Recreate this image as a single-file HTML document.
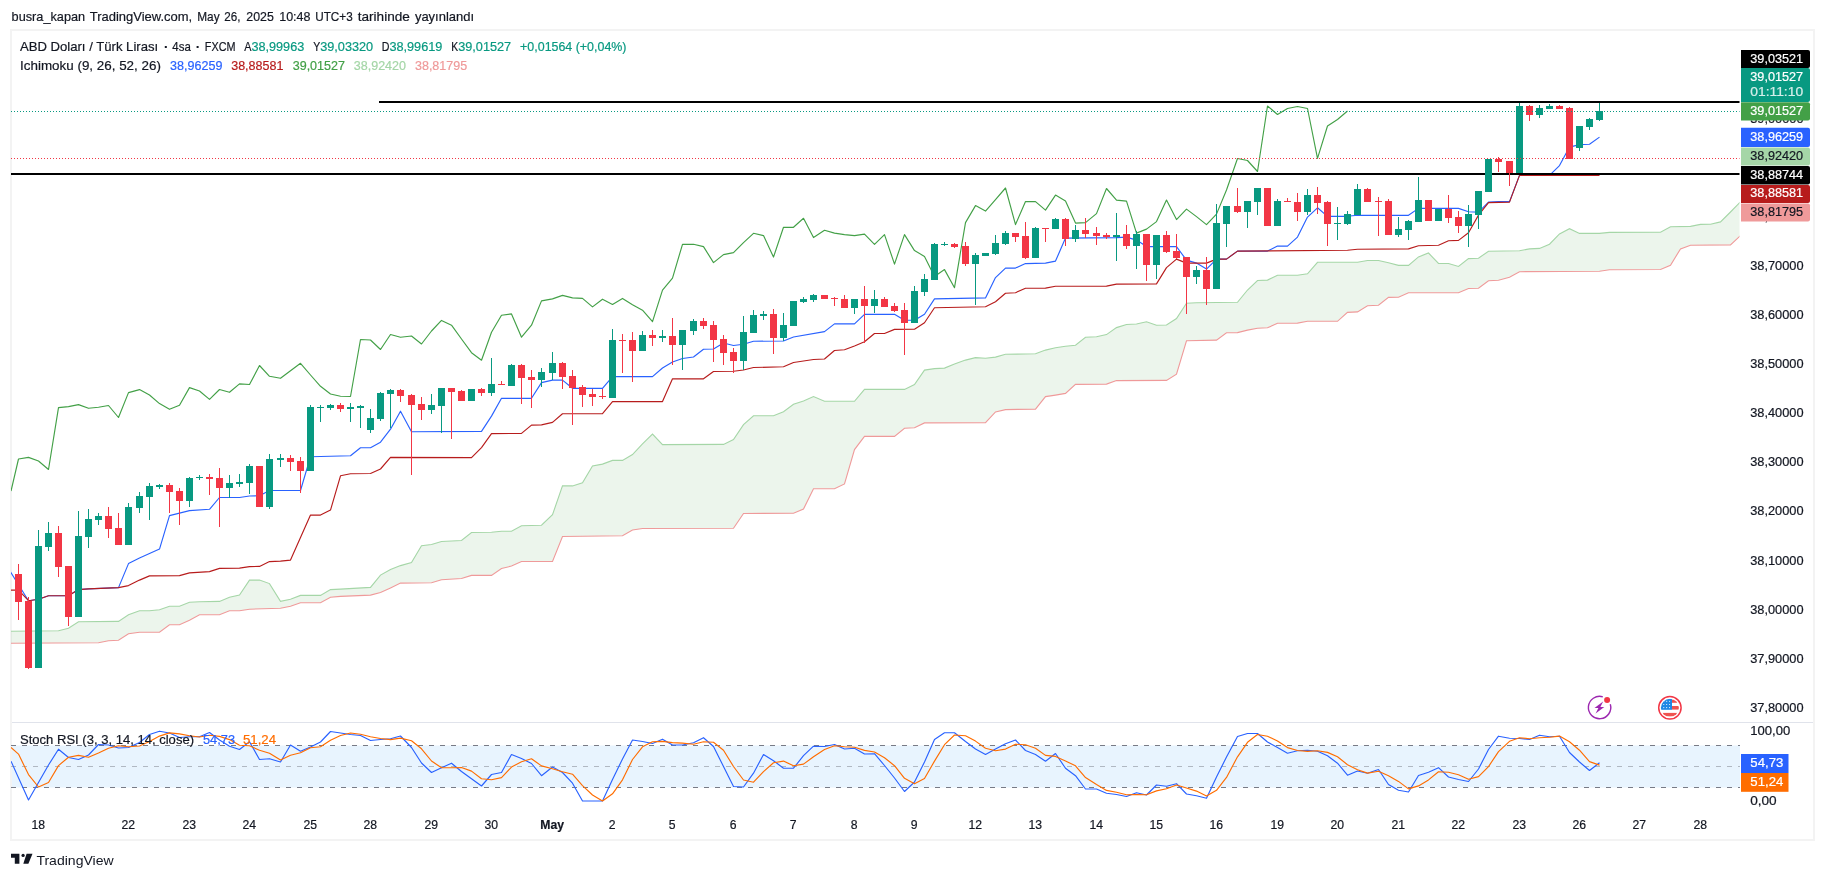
<!DOCTYPE html><html><head><meta charset="utf-8"><title>chart</title><style>html,body{margin:0;padding:0;background:#fff}body{width:1825px;height:879px;overflow:hidden;font-family:"Liberation Sans",sans-serif}svg{display:block}</style></head><body><svg width="1825" height="879" viewBox="0 0 1825 879" font-family="Liberation Sans, sans-serif" style="will-change:transform">
<rect width="1825" height="879" fill="#fff"/>
<defs><clipPath id="cp"><rect x="11" y="31" width="1728.5" height="691.5"/></clipPath><clipPath id="cs"><rect x="11" y="723" width="1728.5" height="95"/></clipPath></defs>
<text x="11.6" y="20.8" font-size="13.4" fill="#131722" stroke="#131722" stroke-width="0.2" textLength="73.5" lengthAdjust="spacingAndGlyphs">busra_kapan</text>
<text x="89.7" y="20.8" font-size="13.4" fill="#131722" stroke="#131722" stroke-width="0.2" textLength="102.5" lengthAdjust="spacingAndGlyphs">TradingView.com,</text>
<text x="197.2" y="20.8" font-size="13.4" fill="#131722" stroke="#131722" stroke-width="0.2" textLength="22.4" lengthAdjust="spacingAndGlyphs">May</text>
<text x="224.3" y="20.8" font-size="13.4" fill="#131722" stroke="#131722" stroke-width="0.2" textLength="16.2" lengthAdjust="spacingAndGlyphs">26,</text>
<text x="246.3" y="20.8" font-size="13.4" fill="#131722" stroke="#131722" stroke-width="0.2" textLength="27.5" lengthAdjust="spacingAndGlyphs">2025</text>
<text x="279.2" y="20.8" font-size="13.4" fill="#131722" stroke="#131722" stroke-width="0.2" textLength="31.3" lengthAdjust="spacingAndGlyphs">10:48</text>
<text x="315.2" y="20.8" font-size="13.4" fill="#131722" stroke="#131722" stroke-width="0.2" textLength="37.5" lengthAdjust="spacingAndGlyphs">UTC+3</text>
<text x="357.7" y="20.8" font-size="13.4" fill="#131722" stroke="#131722" stroke-width="0.2" textLength="52.2" lengthAdjust="spacingAndGlyphs">tarihinde</text>
<text x="414.9" y="20.8" font-size="13.4" fill="#131722" stroke="#131722" stroke-width="0.2" textLength="59.2" lengthAdjust="spacingAndGlyphs">yayınlandı</text>
<rect x="11" y="30" width="1803" height="810" fill="none" stroke="#F3F3F3" stroke-width="2"/>
<rect x="12" y="722" width="1801" height="1" fill="#E0E3EB"/>
<g clip-path="url(#cp)">
<polygon points="10.6,631.2 58.5,630.7 68.5,628.2 78.5,621.7 118.5,621.4 128.5,614.7 139.5,610.7 149.5,610.7 159.5,609.7 169.5,606.2 179.5,606.2 189.5,602.2 199.5,601.7 219.5,601.4 229.5,597.2 239.5,595.1 249.5,580.1 259.5,580.1 269.5,583.6 280.5,601.4 290.5,599.2 300.5,595.4 320.5,595.4 330.5,589.6 340.5,589.1 370.5,587.4 380.5,575.1 390.5,569.6 400.5,565.6 411.5,562.6 421.5,545.8 431.5,544.5 441.5,541.5 461.5,540.5 471.5,532.5 491.5,532.2 501.5,531.2 511.5,531.2 521.5,525.8 541.5,525.2 552.5,514.7 562.5,485.9 572.5,485.9 582.5,482.7 592.5,465.9 602.5,464.1 612.5,460.4 622.5,460.4 632.5,454.6 642.5,443.9 652.5,434.1 662.5,444.6 723.5,444.4 733.5,439.6 743.5,424.6 753.5,415.8 773.5,415.8 783.5,411.8 793.5,404.3 803.5,401.1 813.5,396.6 824.5,401.3 854.5,401.3 864.5,389.3 904.5,389.4 914.5,384.6 924.5,370.1 934.5,368.6 944.5,368.1 954.5,364.1 965.5,360.1 975.5,357.6 985.5,358.3 995.5,357.1 1005.5,354.3 1035.5,353.8 1045.5,350.1 1055.5,347.8 1065.5,346.3 1075.5,345.3 1085.5,337.3 1096.5,336.8 1106.5,334.6 1116.5,327.6 1126.5,324.5 1136.5,324 1146.5,321.8 1156.5,325.3 1166.5,325 1176.5,318.5 1186.5,303.3 1196.5,302.8 1237.5,302.3 1247.5,290 1257.5,280.5 1267.5,280.1 1277.5,275.3 1297.5,275.3 1307.5,273.8 1317.5,262.3 1357.5,262.2 1367.5,260.5 1378.5,260.5 1388.5,262.7 1398.5,265.4 1408.5,265.4 1418.5,256.9 1428.5,253 1438.5,263.4 1448.5,263.5 1458.5,266.5 1468.5,258.6 1478.5,258.2 1488.5,251.2 1519.5,250.7 1529.5,248.9 1539.5,248.4 1549.5,244.2 1559.5,233.9 1569.5,228.7 1579.5,233.4 1599.5,233.4 1609.5,232.4 1660.5,232.2 1670.5,226.7 1690.5,226.4 1700.5,224.4 1710.5,224.2 1720.5,221.9 1730.5,212 1740.2,202.1 1740.2,235.9 1730.5,244.9 1690.5,245.2 1680.5,248.9 1670.5,265.2 1660.5,269.5 1609.5,269.7 1599.5,271.2 1519.5,271.7 1509.5,277.2 1498.5,280.2 1488.5,280.7 1478.5,288.2 1468.5,288.5 1458.5,292.8 1408.5,292.8 1398.5,297.2 1388.5,297.4 1378.5,305.3 1367.5,305.7 1357.5,311.9 1347.5,312.4 1337.5,321.3 1307.5,321.3 1297.5,323.1 1277.5,323.3 1267.5,327.8 1257.5,328.3 1247.5,330.1 1237.5,332.6 1226.5,332.8 1216.5,340.1 1186.5,340.8 1176.5,374.1 1166.5,380.4 1116.5,380.6 1106.5,384.1 1075.5,384.4 1065.5,393.4 1055.5,395.1 1045.5,396.6 1035.5,409.1 1005.5,409.6 995.5,411.9 985.5,422.7 924.5,422.9 914.5,427.7 904.5,428.2 894.5,436.4 864.5,436.4 854.5,449.6 844.5,483.9 834.5,488.7 813.5,488.7 803.5,509 793.5,513.2 743.5,513.5 733.5,528.2 642.5,528.5 632.5,530 622.5,535.7 562.5,536.5 552.5,561.5 521.5,561.5 511.5,566.1 501.5,568.5 491.5,575.4 471.5,575.4 461.5,578.5 441.5,579.8 431.5,582.8 400.5,583.1 390.5,587.9 380.5,592.6 370.5,595.1 340.5,596.4 330.5,597.2 320.5,602.7 300.5,602.7 290.5,606.2 280.5,608.2 249.5,609.2 239.5,610.7 229.5,610.7 219.5,614.7 199.5,614.7 189.5,620.2 179.5,624.7 169.5,624.7 159.5,632.2 139.5,632.2 128.5,633.7 118.5,640.2 108.5,640.7 98.5,642.7 10.6,643.2" fill="#43A047" fill-opacity="0.1"/>
<polyline points="10.6,631.2 58.5,630.7 68.5,628.2 78.5,621.7 118.5,621.4 128.5,614.7 139.5,610.7 149.5,610.7 159.5,609.7 169.5,606.2 179.5,606.2 189.5,602.2 199.5,601.7 219.5,601.4 229.5,597.2 239.5,595.1 249.5,580.1 259.5,580.1 269.5,583.6 280.5,601.4 290.5,599.2 300.5,595.4 320.5,595.4 330.5,589.6 340.5,589.1 370.5,587.4 380.5,575.1 390.5,569.6 400.5,565.6 411.5,562.6 421.5,545.8 431.5,544.5 441.5,541.5 461.5,540.5 471.5,532.5 491.5,532.2 501.5,531.2 511.5,531.2 521.5,525.8 541.5,525.2 552.5,514.7 562.5,485.9 572.5,485.9 582.5,482.7 592.5,465.9 602.5,464.1 612.5,460.4 622.5,460.4 632.5,454.6 642.5,443.9 652.5,434.1 662.5,444.6 723.5,444.4 733.5,439.6 743.5,424.6 753.5,415.8 773.5,415.8 783.5,411.8 793.5,404.3 803.5,401.1 813.5,396.6 824.5,401.3 854.5,401.3 864.5,389.3 904.5,389.4 914.5,384.6 924.5,370.1 934.5,368.6 944.5,368.1 954.5,364.1 965.5,360.1 975.5,357.6 985.5,358.3 995.5,357.1 1005.5,354.3 1035.5,353.8 1045.5,350.1 1055.5,347.8 1065.5,346.3 1075.5,345.3 1085.5,337.3 1096.5,336.8 1106.5,334.6 1116.5,327.6 1126.5,324.5 1136.5,324 1146.5,321.8 1156.5,325.3 1166.5,325 1176.5,318.5 1186.5,303.3 1196.5,302.8 1237.5,302.3 1247.5,290 1257.5,280.5 1267.5,280.1 1277.5,275.3 1297.5,275.3 1307.5,273.8 1317.5,262.3 1357.5,262.2 1367.5,260.5 1378.5,260.5 1388.5,262.7 1398.5,265.4 1408.5,265.4 1418.5,256.9 1428.5,253 1438.5,263.4 1448.5,263.5 1458.5,266.5 1468.5,258.6 1478.5,258.2 1488.5,251.2 1519.5,250.7 1529.5,248.9 1539.5,248.4 1549.5,244.2 1559.5,233.9 1569.5,228.7 1579.5,233.4 1599.5,233.4 1609.5,232.4 1660.5,232.2 1670.5,226.7 1690.5,226.4 1700.5,224.4 1710.5,224.2 1720.5,221.9 1730.5,212 1740.2,202.1" fill="none" stroke="#A5D6A7" stroke-width="1.1"/>
<polyline points="10.6,643.2 98.5,642.7 108.5,640.7 118.5,640.2 128.5,633.7 139.5,632.2 159.5,632.2 169.5,624.7 179.5,624.7 189.5,620.2 199.5,614.7 219.5,614.7 229.5,610.7 239.5,610.7 249.5,609.2 280.5,608.2 290.5,606.2 300.5,602.7 320.5,602.7 330.5,597.2 340.5,596.4 370.5,595.1 380.5,592.6 390.5,587.9 400.5,583.1 431.5,582.8 441.5,579.8 461.5,578.5 471.5,575.4 491.5,575.4 501.5,568.5 511.5,566.1 521.5,561.5 552.5,561.5 562.5,536.5 622.5,535.7 632.5,530 642.5,528.5 733.5,528.2 743.5,513.5 793.5,513.2 803.5,509 813.5,488.7 834.5,488.7 844.5,483.9 854.5,449.6 864.5,436.4 894.5,436.4 904.5,428.2 914.5,427.7 924.5,422.9 985.5,422.7 995.5,411.9 1005.5,409.6 1035.5,409.1 1045.5,396.6 1055.5,395.1 1065.5,393.4 1075.5,384.4 1106.5,384.1 1116.5,380.6 1166.5,380.4 1176.5,374.1 1186.5,340.8 1216.5,340.1 1226.5,332.8 1237.5,332.6 1247.5,330.1 1257.5,328.3 1267.5,327.8 1277.5,323.3 1297.5,323.1 1307.5,321.3 1337.5,321.3 1347.5,312.4 1357.5,311.9 1367.5,305.7 1378.5,305.3 1388.5,297.4 1398.5,297.2 1408.5,292.8 1458.5,292.8 1468.5,288.5 1478.5,288.2 1488.5,280.7 1498.5,280.2 1509.5,277.2 1519.5,271.7 1599.5,271.2 1609.5,269.7 1660.5,269.5 1670.5,265.2 1680.5,248.9 1690.5,245.2 1730.5,244.9 1740.2,235.9" fill="none" stroke="#EF9A9A" stroke-width="1.1"/>
<polyline points="10.6,572.1 28.5,600.7 38.5,599.2 48.5,595.7 68.5,595.7 78.5,589.6 88.5,588.9 118.5,587.6 128.5,563.6 139.5,558.1 149.5,553.6 159.5,549.1 169.5,515.6 179.5,513.1 189.5,510.6 209.5,509.3 219.5,497.5 239.5,497.5 249.5,496 259.5,495.8 269.5,490.5 300.5,490.5 310.5,456.7 350.5,455.7 360.5,447.7 370.5,447.7 380.5,442.2 390.5,429.2 400.5,411.2 411.5,431.7 481.5,431.4 491.5,416.1 501.5,398.3 531.5,398.3 541.5,382.6 552.5,380.1 562.5,380.1 572.5,388.3 602.5,388.3 612.5,376.6 652.5,376.6 662.5,368 672.5,362 682.5,358.5 693.5,357 703.5,349.3 713.5,349 723.5,343 733.5,345.5 743.5,344.3 753.5,341.3 783.5,341 793.5,337 824.5,331.6 834.5,323.9 854.5,323.9 864.5,314.4 894.5,314.3 904.5,320.2 914.5,320.2 924.5,314.2 934.5,298.9 985.5,297.9 995.5,277.6 1005.5,268.1 1015.5,268.1 1025.5,263.6 1045.5,263.1 1055.5,261.1 1065.5,238.1 1116.5,237.6 1126.5,237.1 1136.5,240.1 1146.5,246.6 1176.5,246.6 1186.5,260.1 1196.5,263.1 1206.5,269.1 1216.5,259.1 1226.5,259.1 1237.5,251.1 1267.5,251.1 1277.5,246.1 1287.5,246.1 1297.5,237.1 1307.5,217.1 1317.5,207.8 1327.5,216.4 1347.5,216.3 1357.5,215.3 1408.5,215.3 1418.5,208.4 1458.5,208.4 1468.5,211.8 1478.5,212.1 1488.5,202.1 1498.5,201.6 1509.5,201.6 1519.5,175.4 1549.5,175.4 1559.5,165.6 1569.5,147.1 1579.5,144.6 1589.5,144.3 1599.5,137.1" fill="none" stroke="#2962FF" stroke-width="1.15" stroke-linejoin="round"/>
<polyline points="10.6,590.1 18.5,590.1 28.5,600.7 38.5,599.2 48.5,595.7 68.5,595.7 78.5,589.6 88.5,588.9 118.5,587.6 128.5,585.6 139.5,580.1 149.5,575.9 179.5,575.6 189.5,572.9 209.5,571.6 219.5,568.4 239.5,568.1 249.5,566.6 259.5,566.4 269.5,561.6 280.5,561.1 290.5,560.1 300.5,537.6 310.5,515.1 320.5,515.1 330.5,510.1 340.5,475.8 350.5,473.8 370.5,473.5 380.5,469 390.5,457.4 471.5,457.6 481.5,447.6 491.5,433.6 521.5,433.4 531.5,425.1 541.5,424.9 552.5,422.4 562.5,413.8 602.5,413.6 612.5,401.6 662.5,401.6 672.5,378.8 703.5,378.8 713.5,371.5 733.5,371.3 743.5,370 753.5,367.5 783.5,366.8 793.5,362.5 813.5,359.5 824.5,359 834.5,350.5 844.5,349.8 854.5,346 864.5,341.8 874.5,333.5 884.5,333.5 894.5,329.4 914.5,329.2 924.5,322.7 934.5,307.7 985.5,306.7 995.5,301.7 1005.5,293.2 1015.5,292.7 1025.5,288.2 1045.5,288.1 1055.5,286.2 1106.5,286.1 1116.5,284.1 1156.5,283.9 1166.5,267.6 1176.5,259.1 1186.5,263.1 1206.5,263.1 1216.5,259.1 1226.5,259.1 1237.5,251.1 1347.5,250.3 1357.5,249.2 1408.5,248.9 1418.5,245.7 1438.5,245.2 1448.5,240.7 1458.5,240.4 1468.5,232.7 1478.5,215.1 1488.5,202.6 1509.5,202.1 1519.5,175.4 1599.5,175.4" fill="none" stroke="#B71C1C" stroke-width="1.15" stroke-linejoin="round"/>
<polyline points="11,491 18.5,459 28.5,457.4 38.5,461 48.5,469.5 58.5,407.6 68.5,406.6 78.5,404.6 88.5,408.3 98.5,407.3 108.5,405.5 118.5,417.5 128.5,392.6 139.5,389.6 149.5,395 159.5,403.6 169.5,409.3 179.5,405.3 189.5,387.6 199.5,391 209.5,399.4 219.5,389.5 229.5,392.3 239.5,383.9 249.5,384.5 259.5,365.5 269.5,376.3 280.5,378.3 290.5,370.8 300.5,363.3 310.5,375 320.5,386.3 330.5,394 340.5,396.3 350.5,396.5 360.5,339.5 370.5,340 380.5,349.5 390.5,334.5 400.5,337.3 411.5,336 421.5,344 431.5,331 441.5,320.4 451.5,325.2 461.5,339 471.5,352.7 481.5,360.2 491.5,332.2 501.5,315.2 511.5,313.9 521.5,337.2 531.5,325.2 541.5,300.9 552.5,298.9 562.5,295.4 572.5,297.9 582.5,298.4 592.5,306.9 602.5,299.2 612.5,304.4 622.5,298.4 632.5,304.7 642.5,310.2 652.5,321.7 662.5,290.1 672.5,278.1 682.5,244.3 693.5,244.3 703.5,246.6 713.5,262.6 723.5,254.6 733.5,252.6 743.5,242.6 753.5,233.3 763.5,235.6 773.5,257.1 783.5,227.3 793.5,227.3 803.5,218.3 813.5,237.6 824.5,230.3 834.5,233.1 844.5,234.6 854.5,235.6 864.5,234.1 874.5,244.3 884.5,234.6 894.5,264.1 904.5,234.6 914.5,250.6 924.5,256.4 934.5,276.4 944.5,269.6 954.5,287.7 965.5,222.6 975.5,205.6 985.5,211.1 995.5,199.6 1005.5,188 1015.5,224.6 1025.5,201.6 1035.5,201.6 1045.5,210.1 1055.5,195.1 1065.5,201.1 1075.5,223.1 1085.5,222.6 1096.5,213.6 1106.5,188.5 1116.5,200.1 1126.5,201.1 1136.5,233.1 1146.5,229.1 1156.5,221.6 1166.5,200.1 1176.5,219.6 1186.5,209.1 1196.5,216.6 1206.5,224.6 1216.5,214.1 1226.5,190 1237.5,158.5 1247.5,160.5 1257.5,171.5 1267.5,106 1277.5,114.5 1287.5,108.5 1297.5,106.5 1307.5,108.5 1317.5,158.3 1327.5,126 1337.5,119.5 1347.5,111" fill="none" stroke="#43A047" stroke-width="1.15" stroke-linejoin="round"/>
<rect x="379" y="101" width="1361" height="2" fill="#000"/>
<rect x="11" y="173" width="1729" height="2" fill="#000"/>
<g shape-rendering="crispEdges">
<rect x="18" y="564" width="1" height="56" fill="#F23645"/>
<rect x="15" y="574" width="7" height="28" fill="#F23645"/>
<rect x="28" y="597" width="1" height="72" fill="#F23645"/>
<rect x="25" y="601" width="7" height="67" fill="#F23645"/>
<rect x="38" y="530" width="1" height="138" fill="#089981"/>
<rect x="35" y="546" width="7" height="122" fill="#089981"/>
<rect x="48" y="522" width="1" height="29" fill="#089981"/>
<rect x="45" y="533" width="7" height="14" fill="#089981"/>
<rect x="58" y="526" width="1" height="51" fill="#F23645"/>
<rect x="55" y="533" width="7" height="34" fill="#F23645"/>
<rect x="68" y="566" width="1" height="60" fill="#F23645"/>
<rect x="65" y="566" width="7" height="51" fill="#F23645"/>
<rect x="78" y="511" width="1" height="106" fill="#089981"/>
<rect x="75" y="536" width="7" height="81" fill="#089981"/>
<rect x="88" y="509" width="1" height="39" fill="#089981"/>
<rect x="85" y="519" width="7" height="18" fill="#089981"/>
<rect x="98" y="513" width="1" height="12" fill="#089981"/>
<rect x="95" y="516" width="7" height="4" fill="#089981"/>
<rect x="108" y="507" width="1" height="31" fill="#F23645"/>
<rect x="105" y="516" width="7" height="13" fill="#F23645"/>
<rect x="118" y="513" width="1" height="32" fill="#F23645"/>
<rect x="115" y="528" width="7" height="17" fill="#F23645"/>
<rect x="128" y="503" width="1" height="42" fill="#089981"/>
<rect x="125" y="507" width="7" height="38" fill="#089981"/>
<rect x="139" y="492" width="1" height="21" fill="#089981"/>
<rect x="136" y="496" width="7" height="12" fill="#089981"/>
<rect x="149" y="483" width="1" height="37" fill="#089981"/>
<rect x="146" y="486" width="7" height="11" fill="#089981"/>
<rect x="159" y="484" width="1" height="5" fill="#089981"/>
<rect x="156" y="485" width="7" height="2" fill="#089981"/>
<rect x="169" y="483" width="1" height="30" fill="#F23645"/>
<rect x="166" y="485" width="7" height="7" fill="#F23645"/>
<rect x="179" y="488" width="1" height="37" fill="#F23645"/>
<rect x="176" y="491" width="7" height="10" fill="#F23645"/>
<rect x="189" y="477" width="1" height="30" fill="#089981"/>
<rect x="186" y="478" width="7" height="23" fill="#089981"/>
<rect x="199" y="475" width="1" height="5" fill="#089981"/>
<rect x="196" y="477" width="7" height="1" fill="#089981"/>
<rect x="209" y="474" width="1" height="21" fill="#F23645"/>
<rect x="206" y="477" width="7" height="2" fill="#F23645"/>
<rect x="219" y="468" width="1" height="59" fill="#F23645"/>
<rect x="216" y="478" width="7" height="10" fill="#F23645"/>
<rect x="229" y="475" width="1" height="23" fill="#089981"/>
<rect x="226" y="483" width="7" height="5" fill="#089981"/>
<rect x="239" y="474" width="1" height="13" fill="#089981"/>
<rect x="236" y="482" width="7" height="2" fill="#089981"/>
<rect x="249" y="464" width="1" height="30" fill="#089981"/>
<rect x="246" y="466" width="7" height="17" fill="#089981"/>
<rect x="259" y="466" width="1" height="41" fill="#F23645"/>
<rect x="256" y="466" width="7" height="41" fill="#F23645"/>
<rect x="269" y="454" width="1" height="55" fill="#089981"/>
<rect x="266" y="459" width="7" height="48" fill="#089981"/>
<rect x="280" y="454" width="1" height="13" fill="#089981"/>
<rect x="277" y="458" width="7" height="2" fill="#089981"/>
<rect x="290" y="455" width="1" height="16" fill="#F23645"/>
<rect x="287" y="458" width="7" height="4" fill="#F23645"/>
<rect x="300" y="457" width="1" height="36" fill="#F23645"/>
<rect x="297" y="461" width="7" height="10" fill="#F23645"/>
<rect x="310" y="405" width="1" height="66" fill="#089981"/>
<rect x="307" y="407" width="7" height="64" fill="#089981"/>
<rect x="320" y="405" width="1" height="17" fill="#089981"/>
<rect x="317" y="407" width="7" height="1" fill="#089981"/>
<rect x="330" y="404" width="1" height="6" fill="#089981"/>
<rect x="327" y="405" width="7" height="3" fill="#089981"/>
<rect x="340" y="403" width="1" height="9" fill="#F23645"/>
<rect x="337" y="405" width="7" height="4" fill="#F23645"/>
<rect x="350" y="403" width="1" height="19" fill="#089981"/>
<rect x="347" y="407" width="7" height="2" fill="#089981"/>
<rect x="360" y="405" width="1" height="23" fill="#089981"/>
<rect x="357" y="406" width="7" height="2" fill="#089981"/>
<rect x="370" y="409" width="1" height="24" fill="#089981"/>
<rect x="367" y="418" width="7" height="12" fill="#089981"/>
<rect x="380" y="392" width="1" height="29" fill="#089981"/>
<rect x="377" y="393" width="7" height="26" fill="#089981"/>
<rect x="390" y="389" width="1" height="39" fill="#089981"/>
<rect x="387" y="390" width="7" height="4" fill="#089981"/>
<rect x="400" y="389" width="1" height="13" fill="#F23645"/>
<rect x="397" y="390" width="7" height="6" fill="#F23645"/>
<rect x="411" y="394" width="1" height="81" fill="#F23645"/>
<rect x="408" y="395" width="7" height="10" fill="#F23645"/>
<rect x="421" y="397" width="1" height="23" fill="#F23645"/>
<rect x="418" y="404" width="7" height="6" fill="#F23645"/>
<rect x="431" y="394" width="1" height="20" fill="#089981"/>
<rect x="428" y="405" width="7" height="5" fill="#089981"/>
<rect x="441" y="388" width="1" height="45" fill="#089981"/>
<rect x="438" y="388" width="7" height="18" fill="#089981"/>
<rect x="451" y="388" width="1" height="51" fill="#F23645"/>
<rect x="448" y="388" width="7" height="4" fill="#F23645"/>
<rect x="461" y="390" width="1" height="11" fill="#F23645"/>
<rect x="458" y="391" width="7" height="10" fill="#F23645"/>
<rect x="471" y="389" width="1" height="12" fill="#089981"/>
<rect x="468" y="389" width="7" height="12" fill="#089981"/>
<rect x="481" y="388" width="1" height="8" fill="#F23645"/>
<rect x="478" y="389" width="7" height="4" fill="#F23645"/>
<rect x="491" y="358" width="1" height="38" fill="#089981"/>
<rect x="488" y="384" width="7" height="9" fill="#089981"/>
<rect x="501" y="381" width="1" height="4" fill="#F23645"/>
<rect x="498" y="384" width="7" height="1" fill="#F23645"/>
<rect x="511" y="364" width="1" height="22" fill="#089981"/>
<rect x="508" y="365" width="7" height="21" fill="#089981"/>
<rect x="521" y="364" width="1" height="40" fill="#F23645"/>
<rect x="518" y="365" width="7" height="13" fill="#F23645"/>
<rect x="531" y="370" width="1" height="38" fill="#F23645"/>
<rect x="528" y="377" width="7" height="3" fill="#F23645"/>
<rect x="541" y="368" width="1" height="19" fill="#089981"/>
<rect x="538" y="372" width="7" height="8" fill="#089981"/>
<rect x="552" y="352" width="1" height="28" fill="#089981"/>
<rect x="549" y="363" width="7" height="10" fill="#089981"/>
<rect x="562" y="362" width="1" height="27" fill="#F23645"/>
<rect x="559" y="363" width="7" height="14" fill="#F23645"/>
<rect x="572" y="370" width="1" height="55" fill="#F23645"/>
<rect x="569" y="376" width="7" height="12" fill="#F23645"/>
<rect x="582" y="385" width="1" height="22" fill="#F23645"/>
<rect x="579" y="387" width="7" height="8" fill="#F23645"/>
<rect x="592" y="389" width="1" height="17" fill="#F23645"/>
<rect x="589" y="394" width="7" height="3" fill="#F23645"/>
<rect x="602" y="389" width="1" height="10" fill="#F23645"/>
<rect x="599" y="396" width="7" height="1" fill="#F23645"/>
<rect x="612" y="329" width="1" height="69" fill="#089981"/>
<rect x="609" y="340" width="7" height="58" fill="#089981"/>
<rect x="622" y="334" width="1" height="39" fill="#F23645"/>
<rect x="619" y="340" width="7" height="1" fill="#F23645"/>
<rect x="632" y="332" width="1" height="50" fill="#F23645"/>
<rect x="629" y="340" width="7" height="11" fill="#F23645"/>
<rect x="642" y="331" width="1" height="20" fill="#089981"/>
<rect x="639" y="335" width="7" height="16" fill="#089981"/>
<rect x="652" y="330" width="1" height="16" fill="#F23645"/>
<rect x="649" y="335" width="7" height="3" fill="#F23645"/>
<rect x="662" y="330" width="1" height="12" fill="#089981"/>
<rect x="659" y="336" width="7" height="2" fill="#089981"/>
<rect x="672" y="318" width="1" height="47" fill="#F23645"/>
<rect x="669" y="336" width="7" height="9" fill="#F23645"/>
<rect x="682" y="330" width="1" height="40" fill="#089981"/>
<rect x="679" y="330" width="7" height="15" fill="#089981"/>
<rect x="693" y="319" width="1" height="16" fill="#089981"/>
<rect x="690" y="321" width="7" height="10" fill="#089981"/>
<rect x="703" y="318" width="1" height="11" fill="#F23645"/>
<rect x="700" y="321" width="7" height="5" fill="#F23645"/>
<rect x="713" y="321" width="1" height="41" fill="#F23645"/>
<rect x="710" y="325" width="7" height="15" fill="#F23645"/>
<rect x="723" y="335" width="1" height="30" fill="#F23645"/>
<rect x="720" y="339" width="7" height="14" fill="#F23645"/>
<rect x="733" y="348" width="1" height="25" fill="#F23645"/>
<rect x="730" y="352" width="7" height="9" fill="#F23645"/>
<rect x="743" y="316" width="1" height="54" fill="#089981"/>
<rect x="740" y="332" width="7" height="29" fill="#089981"/>
<rect x="753" y="310" width="1" height="23" fill="#089981"/>
<rect x="750" y="315" width="7" height="18" fill="#089981"/>
<rect x="763" y="311" width="1" height="9" fill="#089981"/>
<rect x="760" y="314" width="7" height="2" fill="#089981"/>
<rect x="773" y="309" width="1" height="45" fill="#F23645"/>
<rect x="770" y="314" width="7" height="24" fill="#F23645"/>
<rect x="783" y="313" width="1" height="28" fill="#089981"/>
<rect x="780" y="325" width="7" height="13" fill="#089981"/>
<rect x="793" y="301" width="1" height="25" fill="#089981"/>
<rect x="790" y="301" width="7" height="25" fill="#089981"/>
<rect x="803" y="297" width="1" height="6" fill="#089981"/>
<rect x="800" y="299" width="7" height="3" fill="#089981"/>
<rect x="813" y="294" width="1" height="8" fill="#089981"/>
<rect x="810" y="295" width="7" height="5" fill="#089981"/>
<rect x="824" y="295" width="1" height="4" fill="#F23645"/>
<rect x="821" y="295" width="7" height="4" fill="#F23645"/>
<rect x="834" y="297" width="1" height="9" fill="#F23645"/>
<rect x="831" y="298" width="7" height="1" fill="#F23645"/>
<rect x="844" y="295" width="1" height="13" fill="#F23645"/>
<rect x="841" y="299" width="7" height="9" fill="#F23645"/>
<rect x="854" y="299" width="1" height="15" fill="#089981"/>
<rect x="851" y="299" width="7" height="9" fill="#089981"/>
<rect x="864" y="286" width="1" height="57" fill="#F23645"/>
<rect x="861" y="299" width="7" height="7" fill="#F23645"/>
<rect x="874" y="290" width="1" height="23" fill="#089981"/>
<rect x="871" y="299" width="7" height="7" fill="#089981"/>
<rect x="884" y="297" width="1" height="10" fill="#F23645"/>
<rect x="881" y="299" width="7" height="8" fill="#F23645"/>
<rect x="894" y="303" width="1" height="9" fill="#F23645"/>
<rect x="891" y="306" width="7" height="5" fill="#F23645"/>
<rect x="904" y="303" width="1" height="52" fill="#F23645"/>
<rect x="901" y="310" width="7" height="13" fill="#F23645"/>
<rect x="914" y="286" width="1" height="37" fill="#089981"/>
<rect x="911" y="291" width="7" height="32" fill="#089981"/>
<rect x="924" y="274" width="1" height="22" fill="#089981"/>
<rect x="921" y="279" width="7" height="13" fill="#089981"/>
<rect x="934" y="243" width="1" height="37" fill="#089981"/>
<rect x="931" y="244" width="7" height="36" fill="#089981"/>
<rect x="944" y="242" width="1" height="4" fill="#089981"/>
<rect x="941" y="244" width="7" height="1" fill="#089981"/>
<rect x="954" y="243" width="1" height="5" fill="#F23645"/>
<rect x="951" y="244" width="7" height="3" fill="#F23645"/>
<rect x="965" y="242" width="1" height="24" fill="#F23645"/>
<rect x="962" y="246" width="7" height="18" fill="#F23645"/>
<rect x="975" y="253" width="1" height="52" fill="#089981"/>
<rect x="972" y="255" width="7" height="9" fill="#089981"/>
<rect x="985" y="253" width="1" height="3" fill="#089981"/>
<rect x="982" y="253" width="7" height="3" fill="#089981"/>
<rect x="995" y="235" width="1" height="20" fill="#089981"/>
<rect x="992" y="243" width="7" height="11" fill="#089981"/>
<rect x="1005" y="231" width="1" height="14" fill="#089981"/>
<rect x="1002" y="233" width="7" height="11" fill="#089981"/>
<rect x="1015" y="233" width="1" height="9" fill="#F23645"/>
<rect x="1012" y="233" width="7" height="4" fill="#F23645"/>
<rect x="1025" y="222" width="1" height="37" fill="#F23645"/>
<rect x="1022" y="236" width="7" height="22" fill="#F23645"/>
<rect x="1035" y="227" width="1" height="31" fill="#089981"/>
<rect x="1032" y="228" width="7" height="30" fill="#089981"/>
<rect x="1045" y="228" width="1" height="14" fill="#F23645"/>
<rect x="1042" y="228" width="7" height="1" fill="#F23645"/>
<rect x="1055" y="218" width="1" height="11" fill="#089981"/>
<rect x="1052" y="219" width="7" height="10" fill="#089981"/>
<rect x="1065" y="218" width="1" height="28" fill="#F23645"/>
<rect x="1062" y="219" width="7" height="20" fill="#F23645"/>
<rect x="1075" y="225" width="1" height="17" fill="#089981"/>
<rect x="1072" y="230" width="7" height="9" fill="#089981"/>
<rect x="1085" y="218" width="1" height="20" fill="#F23645"/>
<rect x="1082" y="230" width="7" height="4" fill="#F23645"/>
<rect x="1096" y="227" width="1" height="18" fill="#F23645"/>
<rect x="1093" y="233" width="7" height="3" fill="#F23645"/>
<rect x="1106" y="233" width="1" height="6" fill="#F23645"/>
<rect x="1103" y="235" width="7" height="2" fill="#F23645"/>
<rect x="1116" y="213" width="1" height="48" fill="#089981"/>
<rect x="1113" y="235" width="7" height="2" fill="#089981"/>
<rect x="1126" y="225" width="1" height="24" fill="#F23645"/>
<rect x="1123" y="234" width="7" height="12" fill="#F23645"/>
<rect x="1136" y="231" width="1" height="38" fill="#089981"/>
<rect x="1133" y="234" width="7" height="12" fill="#089981"/>
<rect x="1146" y="234" width="1" height="47" fill="#F23645"/>
<rect x="1143" y="234" width="7" height="31" fill="#F23645"/>
<rect x="1156" y="235" width="1" height="44" fill="#089981"/>
<rect x="1153" y="235" width="7" height="30" fill="#089981"/>
<rect x="1166" y="231" width="1" height="22" fill="#F23645"/>
<rect x="1163" y="235" width="7" height="17" fill="#F23645"/>
<rect x="1176" y="234" width="1" height="25" fill="#F23645"/>
<rect x="1173" y="251" width="7" height="7" fill="#F23645"/>
<rect x="1186" y="257" width="1" height="57" fill="#F23645"/>
<rect x="1183" y="257" width="7" height="20" fill="#F23645"/>
<rect x="1196" y="266" width="1" height="18" fill="#089981"/>
<rect x="1193" y="270" width="7" height="7" fill="#089981"/>
<rect x="1206" y="257" width="1" height="48" fill="#F23645"/>
<rect x="1203" y="270" width="7" height="19" fill="#F23645"/>
<rect x="1216" y="204" width="1" height="85" fill="#089981"/>
<rect x="1213" y="223" width="7" height="66" fill="#089981"/>
<rect x="1226" y="206" width="1" height="41" fill="#089981"/>
<rect x="1223" y="206" width="7" height="18" fill="#089981"/>
<rect x="1237" y="188" width="1" height="25" fill="#F23645"/>
<rect x="1234" y="206" width="7" height="6" fill="#F23645"/>
<rect x="1247" y="201" width="1" height="27" fill="#089981"/>
<rect x="1244" y="201" width="7" height="11" fill="#089981"/>
<rect x="1257" y="188" width="1" height="27" fill="#089981"/>
<rect x="1254" y="188" width="7" height="14" fill="#089981"/>
<rect x="1267" y="188" width="1" height="38" fill="#F23645"/>
<rect x="1264" y="188" width="7" height="38" fill="#F23645"/>
<rect x="1277" y="199" width="1" height="27" fill="#089981"/>
<rect x="1274" y="201" width="7" height="25" fill="#089981"/>
<rect x="1287" y="198" width="1" height="4" fill="#F23645"/>
<rect x="1284" y="201" width="7" height="1" fill="#F23645"/>
<rect x="1297" y="193" width="1" height="28" fill="#F23645"/>
<rect x="1294" y="202" width="7" height="10" fill="#F23645"/>
<rect x="1307" y="189" width="1" height="26" fill="#089981"/>
<rect x="1304" y="195" width="7" height="17" fill="#089981"/>
<rect x="1317" y="187" width="1" height="27" fill="#F23645"/>
<rect x="1314" y="195" width="7" height="8" fill="#F23645"/>
<rect x="1327" y="201" width="1" height="45" fill="#F23645"/>
<rect x="1324" y="202" width="7" height="22" fill="#F23645"/>
<rect x="1337" y="207" width="1" height="33" fill="#089981"/>
<rect x="1334" y="223" width="7" height="1" fill="#089981"/>
<rect x="1347" y="211" width="1" height="14" fill="#089981"/>
<rect x="1344" y="214" width="7" height="10" fill="#089981"/>
<rect x="1357" y="184" width="1" height="31" fill="#089981"/>
<rect x="1354" y="189" width="7" height="26" fill="#089981"/>
<rect x="1367" y="188" width="1" height="14" fill="#F23645"/>
<rect x="1364" y="189" width="7" height="13" fill="#F23645"/>
<rect x="1378" y="197" width="1" height="39" fill="#F23645"/>
<rect x="1375" y="201" width="7" height="1" fill="#F23645"/>
<rect x="1388" y="199" width="1" height="36" fill="#F23645"/>
<rect x="1385" y="201" width="7" height="34" fill="#F23645"/>
<rect x="1398" y="217" width="1" height="20" fill="#089981"/>
<rect x="1395" y="229" width="7" height="6" fill="#089981"/>
<rect x="1408" y="220" width="1" height="20" fill="#089981"/>
<rect x="1405" y="221" width="7" height="9" fill="#089981"/>
<rect x="1418" y="177" width="1" height="45" fill="#089981"/>
<rect x="1415" y="200" width="7" height="22" fill="#089981"/>
<rect x="1428" y="200" width="1" height="21" fill="#F23645"/>
<rect x="1425" y="200" width="7" height="21" fill="#F23645"/>
<rect x="1438" y="209" width="1" height="12" fill="#089981"/>
<rect x="1435" y="209" width="7" height="12" fill="#089981"/>
<rect x="1448" y="195" width="1" height="28" fill="#F23645"/>
<rect x="1445" y="209" width="7" height="9" fill="#F23645"/>
<rect x="1458" y="211" width="1" height="22" fill="#F23645"/>
<rect x="1455" y="217" width="7" height="9" fill="#F23645"/>
<rect x="1468" y="205" width="1" height="42" fill="#089981"/>
<rect x="1465" y="214" width="7" height="12" fill="#089981"/>
<rect x="1478" y="191" width="1" height="38" fill="#089981"/>
<rect x="1475" y="191" width="7" height="24" fill="#089981"/>
<rect x="1488" y="159" width="1" height="33" fill="#089981"/>
<rect x="1485" y="159" width="7" height="33" fill="#089981"/>
<rect x="1498" y="157" width="1" height="15" fill="#F23645"/>
<rect x="1495" y="159" width="7" height="3" fill="#F23645"/>
<rect x="1509" y="161" width="1" height="25" fill="#F23645"/>
<rect x="1506" y="161" width="7" height="12" fill="#F23645"/>
<rect x="1519" y="103" width="1" height="70" fill="#089981"/>
<rect x="1516" y="106" width="7" height="67" fill="#089981"/>
<rect x="1529" y="105" width="1" height="16" fill="#F23645"/>
<rect x="1526" y="106" width="7" height="9" fill="#F23645"/>
<rect x="1539" y="105" width="1" height="13" fill="#089981"/>
<rect x="1536" y="108" width="7" height="7" fill="#089981"/>
<rect x="1549" y="104" width="1" height="5" fill="#089981"/>
<rect x="1546" y="106" width="7" height="3" fill="#089981"/>
<rect x="1559" y="105" width="1" height="4" fill="#F23645"/>
<rect x="1556" y="106" width="7" height="3" fill="#F23645"/>
<rect x="1569" y="107" width="1" height="52" fill="#F23645"/>
<rect x="1566" y="108" width="7" height="51" fill="#F23645"/>
<rect x="1579" y="126" width="1" height="25" fill="#089981"/>
<rect x="1576" y="126" width="7" height="22" fill="#089981"/>
<rect x="1589" y="118" width="1" height="12" fill="#089981"/>
<rect x="1586" y="119" width="7" height="8" fill="#089981"/>
<rect x="1599" y="103" width="1" height="18" fill="#089981"/>
<rect x="1596" y="111" width="7" height="9" fill="#089981"/>
</g>
<line x1="11" x2="1740" y1="111.5" y2="111.5" stroke="#089981" stroke-width="1" stroke-dasharray="1 2"/>
<line x1="11" x2="1740" y1="158.5" y2="158.5" stroke="#F23645" stroke-width="1" stroke-dasharray="1 2"/>
</g>
<text x="19.9" y="50.8" font-size="13" fill="#131722" stroke="#131722" stroke-width="0.2" textLength="138.3" lengthAdjust="spacingAndGlyphs">ABD Doları / Türk Lirası</text>
<rect x="164.8" y="46" width="2" height="2" fill="#131722"/>
<text x="172.3" y="50.8" font-size="13" fill="#131722" stroke="#131722" stroke-width="0.2" textLength="18.5" lengthAdjust="spacingAndGlyphs">4sa</text>
<rect x="196.6" y="46" width="2" height="2" fill="#131722"/>
<text x="204.8" y="50.8" font-size="13" fill="#131722" stroke="#131722" stroke-width="0.2" textLength="30.7" lengthAdjust="spacingAndGlyphs">FXCM</text>
<text x="244.2" y="50.8" font-size="13" fill="#131722" stroke="#131722" stroke-width="0.2" textLength="7.2" lengthAdjust="spacingAndGlyphs">A</text>
<text x="251.4" y="50.8" font-size="13" fill="#089981" stroke="#089981" stroke-width="0.2" textLength="52.9" lengthAdjust="spacingAndGlyphs">38,99963</text>
<text x="313.2" y="50.8" font-size="13" fill="#131722" stroke="#131722" stroke-width="0.2" textLength="7" lengthAdjust="spacingAndGlyphs">Y</text>
<text x="320.2" y="50.8" font-size="13" fill="#089981" stroke="#089981" stroke-width="0.2" textLength="53" lengthAdjust="spacingAndGlyphs">39,03320</text>
<text x="381.7" y="50.8" font-size="13" fill="#131722" stroke="#131722" stroke-width="0.2" textLength="7.7" lengthAdjust="spacingAndGlyphs">D</text>
<text x="389.4" y="50.8" font-size="13" fill="#089981" stroke="#089981" stroke-width="0.2" textLength="53" lengthAdjust="spacingAndGlyphs">38,99619</text>
<text x="451.3" y="50.8" font-size="13" fill="#131722" stroke="#131722" stroke-width="0.2" textLength="6.9" lengthAdjust="spacingAndGlyphs">K</text>
<text x="458.2" y="50.8" font-size="13" fill="#089981" stroke="#089981" stroke-width="0.2" textLength="53" lengthAdjust="spacingAndGlyphs">39,01527</text>
<text x="520.1" y="50.8" font-size="13" fill="#089981" stroke="#089981" stroke-width="0.2" textLength="106.4" lengthAdjust="spacingAndGlyphs">+0,01564 (+0,04%)</text>
<text x="20.1" y="69.8" font-size="13" fill="#131722" stroke="#131722" stroke-width="0.2" textLength="140.8" lengthAdjust="spacingAndGlyphs">Ichimoku (9, 26, 52, 26)</text>
<text x="170.1" y="69.8" font-size="13" fill="#2962FF" stroke="#2962FF" stroke-width="0.2" textLength="52.3" lengthAdjust="spacingAndGlyphs">38,96259</text>
<text x="231.2" y="69.8" font-size="13" fill="#B71C1C" stroke="#B71C1C" stroke-width="0.2" textLength="52.2" lengthAdjust="spacingAndGlyphs">38,88581</text>
<text x="292.7" y="69.8" font-size="13" fill="#43A047" stroke="#43A047" stroke-width="0.2" textLength="52.3" lengthAdjust="spacingAndGlyphs">39,01527</text>
<text x="353.8" y="69.8" font-size="13" fill="#A5D6A7" stroke="#A5D6A7" stroke-width="0.2" textLength="52.2" lengthAdjust="spacingAndGlyphs">38,92420</text>
<text x="415" y="69.8" font-size="13" fill="#EF9A9A" stroke="#EF9A9A" stroke-width="0.2" textLength="52.1" lengthAdjust="spacingAndGlyphs">38,81795</text>
<text x="1750.2" y="122.6" font-size="12.5" fill="#131722" stroke="#131722" stroke-width="0.2" textLength="53.3" lengthAdjust="spacingAndGlyphs">39,00000</text>
<text x="1750.2" y="220.8" font-size="12.5" fill="#131722" stroke="#131722" stroke-width="0.2" textLength="53.3" lengthAdjust="spacingAndGlyphs">38,80000</text>
<text x="1750.2" y="269.9" font-size="12.5" fill="#131722" stroke="#131722" stroke-width="0.2" textLength="53.3" lengthAdjust="spacingAndGlyphs">38,70000</text>
<text x="1750.2" y="319" font-size="12.5" fill="#131722" stroke="#131722" stroke-width="0.2" textLength="53.3" lengthAdjust="spacingAndGlyphs">38,60000</text>
<text x="1750.2" y="368.1" font-size="12.5" fill="#131722" stroke="#131722" stroke-width="0.2" textLength="53.3" lengthAdjust="spacingAndGlyphs">38,50000</text>
<text x="1750.2" y="417.2" font-size="12.5" fill="#131722" stroke="#131722" stroke-width="0.2" textLength="53.3" lengthAdjust="spacingAndGlyphs">38,40000</text>
<text x="1750.2" y="466.3" font-size="12.5" fill="#131722" stroke="#131722" stroke-width="0.2" textLength="53.3" lengthAdjust="spacingAndGlyphs">38,30000</text>
<text x="1750.2" y="515.4" font-size="12.5" fill="#131722" stroke="#131722" stroke-width="0.2" textLength="53.3" lengthAdjust="spacingAndGlyphs">38,20000</text>
<text x="1750.2" y="564.5" font-size="12.5" fill="#131722" stroke="#131722" stroke-width="0.2" textLength="53.3" lengthAdjust="spacingAndGlyphs">38,10000</text>
<text x="1750.2" y="613.6" font-size="12.5" fill="#131722" stroke="#131722" stroke-width="0.2" textLength="53.3" lengthAdjust="spacingAndGlyphs">38,00000</text>
<text x="1750.2" y="662.7" font-size="12.5" fill="#131722" stroke="#131722" stroke-width="0.2" textLength="53.3" lengthAdjust="spacingAndGlyphs">37,90000</text>
<text x="1750.2" y="711.8" font-size="12.5" fill="#131722" stroke="#131722" stroke-width="0.2" textLength="53.3" lengthAdjust="spacingAndGlyphs">37,80000</text>
<path d="M1741 50 H1808 a2 2 0 0 1 2 2 V66 a2 2 0 0 1 -2 2 H1741 Z" fill="#000"/>
<text x="1750.3" y="62.8" font-size="12.5" fill="#fff" stroke="#fff" stroke-width="0.2" textLength="52.8" lengthAdjust="spacingAndGlyphs">39,03521</text>
<path d="M1741 68 H1808 a2 2 0 0 1 2 2 V100 a2 2 0 0 1 -2 2 H1741 Z" fill="#089981"/>
<text x="1750.3" y="80.8" font-size="12.5" fill="#fff" stroke="#fff" stroke-width="0.2" textLength="52.8" lengthAdjust="spacingAndGlyphs">39,01527</text>
<text x="1750.3" y="95.9" font-size="12.5" fill="#fff" stroke="#fff" stroke-width="0.2" textLength="52.8" lengthAdjust="spacingAndGlyphs" fill-opacity="0.8" stroke-opacity="0.8">01:11:10</text>
<path d="M1741 102.3 H1808 a2 2 0 0 1 2 2 V118.5 a2 2 0 0 1 -2 2 H1741 Z" fill="#43A047"/>
<text x="1750.3" y="114.9" font-size="12.5" fill="#fff" stroke="#fff" stroke-width="0.2" textLength="52.8" lengthAdjust="spacingAndGlyphs">39,01527</text>
<path d="M1741 127.8 H1808 a2 2 0 0 1 2 2 V145 a2 2 0 0 1 -2 2 H1741 Z" fill="#2962FF"/>
<text x="1750.3" y="140.9" font-size="12.5" fill="#fff" stroke="#fff" stroke-width="0.2" textLength="52.8" lengthAdjust="spacingAndGlyphs">38,96259</text>
<path d="M1741 147.6 H1808 a2 2 0 0 1 2 2 V163.4 a2 2 0 0 1 -2 2 H1741 Z" fill="#A5D6A7"/>
<text x="1750.3" y="160" font-size="12.5" fill="#131722" stroke="#131722" stroke-width="0.2" textLength="52.8" lengthAdjust="spacingAndGlyphs">38,92420</text>
<path d="M1741 166 H1808 a2 2 0 0 1 2 2 V182.6 a2 2 0 0 1 -2 2 H1741 Z" fill="#000"/>
<text x="1750.3" y="178.9" font-size="12.5" fill="#fff" stroke="#fff" stroke-width="0.2" textLength="52.8" lengthAdjust="spacingAndGlyphs">38,88744</text>
<path d="M1741 185 H1808 a2 2 0 0 1 2 2 V201 a2 2 0 0 1 -2 2 H1741 Z" fill="#B71C1C"/>
<text x="1750.3" y="197.2" font-size="12.5" fill="#fff" stroke="#fff" stroke-width="0.2" textLength="52.8" lengthAdjust="spacingAndGlyphs">38,88581</text>
<path d="M1741 203.6 H1808 a2 2 0 0 1 2 2 V219.6 a2 2 0 0 1 -2 2 H1741 Z" fill="#EF9A9A"/>
<text x="1750.3" y="216.2" font-size="12.5" fill="#131722" stroke="#131722" stroke-width="0.2" textLength="52.8" lengthAdjust="spacingAndGlyphs">38,81795</text>
<rect x="12" y="745.5" width="1728" height="42" fill="#2196F3" fill-opacity="0.1"/>
<line x1="11" x2="1740" y1="745.5" y2="745.5" stroke="#787B86" stroke-width="1" stroke-dasharray="5 6"/>
<line x1="11" x2="1740" y1="766.5" y2="766.5" stroke="#787B86" stroke-opacity="0.5" stroke-width="1" stroke-dasharray="5 6"/>
<line x1="11" x2="1740" y1="787.5" y2="787.5" stroke="#787B86" stroke-width="1" stroke-dasharray="5 6"/>
<g clip-path="url(#cs)">
<polyline points="11,761.2 28.5,800 38.5,782.5 48.5,765 58.5,749.2 68.5,757.5 78.5,759.5 88.5,755 98.5,744.5 108.5,745 118.5,748 128.5,747.5 139.5,742.5 149.5,734.5 159.5,731.2 169.5,733 179.5,737.5 189.5,736.7 199.5,736.7 209.5,732.5 219.5,740 229.5,746.2 239.5,749.5 249.5,741.7 259.5,759.5 269.5,758.7 280.5,762 290.5,745 300.5,751.2 310.5,747 320.5,742 330.5,731.5 340.5,733 350.5,734.5 360.5,735.5 370.5,740.5 380.5,739.5 390.5,738.7 400.5,736 411.5,747.5 421.5,763 431.5,772.5 441.5,767.7 451.5,763.2 461.5,771.5 471.5,778.7 481.5,786 491.5,774.5 501.5,772.5 511.5,754.5 521.5,758.5 531.5,763.5 541.5,775.7 552.5,767 562.5,772.5 572.5,783.2 582.5,801 592.5,801 602.5,801 612.5,779.5 622.5,759 632.5,740 642.5,741.5 652.5,743.5 662.5,739.2 672.5,745 682.5,745 693.5,742.7 703.5,737.7 713.5,746.5 723.5,766.5 733.5,786.5 743.5,787 753.5,773.2 763.5,754.5 773.5,760.7 783.5,768.2 793.5,768.2 803.5,755.7 813.5,746.2 824.5,746.5 834.5,744.5 844.5,749 854.5,748.2 864.5,754 874.5,753.7 884.5,765.5 894.5,778 904.5,791.5 914.5,782 924.5,762 934.5,739.5 944.5,732.7 954.5,732.7 965.5,741.5 975.5,749 985.5,754.5 995.5,749 1005.5,743.7 1015.5,740 1025.5,750.5 1035.5,754.5 1045.5,761.2 1055.5,753.5 1065.5,768.2 1075.5,775.7 1085.5,789 1096.5,789 1106.5,793.2 1116.5,794.5 1126.5,796.5 1136.5,792.7 1146.5,795 1156.5,785 1166.5,786.2 1176.5,783.7 1186.5,794 1196.5,795.7 1206.5,798.2 1216.5,777 1226.5,757 1237.5,736.5 1247.5,733.5 1257.5,733.5 1267.5,742 1277.5,747.5 1287.5,753.2 1297.5,750.7 1307.5,750.2 1317.5,751.2 1327.5,755.7 1337.5,763.2 1347.5,775.2 1357.5,771 1367.5,773.2 1378.5,769.5 1388.5,784.5 1398.5,790.2 1408.5,792 1418.5,775.5 1428.5,772.2 1438.5,767.7 1448.5,777 1458.5,779.5 1468.5,781.5 1478.5,769 1488.5,749.5 1498.5,736.2 1509.5,738.2 1519.5,738.5 1529.5,739.5 1539.5,735.2 1549.5,736.7 1559.5,736.2 1569.5,752.5 1579.5,762 1589.5,770.5 1599.5,762.7" fill="none" stroke="#2962FF" stroke-width="1.15" stroke-linejoin="round"/>
<polyline points="11,747.5 18.5,754.1 28.5,774.6 38.5,787 48.5,782.5 58.5,765.6 68.5,757.2 78.5,755.4 88.5,757.3 98.5,753 108.5,748.2 118.5,745.8 128.5,746.8 139.5,746 149.5,741.5 159.5,736.1 169.5,732.9 179.5,733.9 189.5,735.7 199.5,737 209.5,735.3 219.5,736.4 229.5,739.6 239.5,745.2 249.5,745.8 259.5,750.2 269.5,753.3 280.5,760.1 290.5,755.2 300.5,752.7 310.5,747.7 320.5,746.7 330.5,740.2 340.5,735.5 350.5,733 360.5,734.3 370.5,736.8 380.5,738.5 390.5,739.6 400.5,738.1 411.5,740.7 421.5,748.8 431.5,761 441.5,767.7 451.5,767.8 461.5,767.5 471.5,771.1 481.5,778.7 491.5,779.7 501.5,777.6 511.5,767.1 521.5,761.8 531.5,758.8 541.5,765.9 552.5,768.7 562.5,771.7 572.5,774.2 582.5,785.6 592.5,795 602.5,801 612.5,793.8 622.5,779.8 632.5,759.5 642.5,746.8 652.5,741.7 662.5,741.4 672.5,742.6 682.5,743.1 693.5,744.2 703.5,741.8 713.5,742.3 723.5,750.2 733.5,766.5 743.5,780 753.5,782.2 763.5,771.6 773.5,762.8 783.5,761.1 793.5,765.7 803.5,764.1 813.5,756.7 824.5,749.5 834.5,745.7 844.5,746.7 854.5,747.2 864.5,750.4 874.5,752 884.5,757.7 894.5,765.7 904.5,778.3 914.5,783.8 924.5,778.5 934.5,761.1 944.5,744.7 954.5,735 965.5,735.7 975.5,741.1 985.5,748.3 995.5,750.8 1005.5,749.1 1015.5,744.2 1025.5,744.7 1035.5,748.3 1045.5,755.4 1055.5,756.4 1065.5,761 1075.5,765.8 1085.5,777.6 1096.5,784.6 1106.5,790.4 1116.5,792.2 1126.5,794.7 1136.5,794.5 1146.5,794.7 1156.5,790.9 1166.5,788.7 1176.5,785 1186.5,788 1196.5,791.1 1206.5,796 1216.5,790.3 1226.5,777.4 1237.5,756.8 1247.5,742.3 1257.5,734.5 1267.5,736.3 1277.5,741 1287.5,747.6 1297.5,750.5 1307.5,751.4 1317.5,750.7 1327.5,752.4 1337.5,756.7 1347.5,764.7 1357.5,769.8 1367.5,773.1 1378.5,771.2 1388.5,775.7 1398.5,781.4 1408.5,788.9 1418.5,785.9 1428.5,779.9 1438.5,771.8 1448.5,772.3 1458.5,774.7 1468.5,779.3 1478.5,776.6 1488.5,766.6 1498.5,751.6 1509.5,741.3 1519.5,737.7 1529.5,738.7 1539.5,737.7 1549.5,737.2 1559.5,736.1 1569.5,741.8 1579.5,750.2 1589.5,761.6 1599.5,765.1" fill="none" stroke="#FF6D00" stroke-width="1.15" stroke-linejoin="round"/>
</g>
<text x="20" y="744.3" font-size="13" fill="#131722" stroke="#131722" stroke-width="0.2" textLength="174" lengthAdjust="spacingAndGlyphs">Stoch RSI (3, 3, 14, 14, close)</text>
<text x="203" y="744.3" font-size="13" fill="#2962FF" stroke="#2962FF" stroke-width="0.2" textLength="32" lengthAdjust="spacingAndGlyphs">54,73</text>
<text x="243" y="744.3" font-size="13" fill="#FF6D00" stroke="#FF6D00" stroke-width="0.2" textLength="33" lengthAdjust="spacingAndGlyphs">51,24</text>
<text x="1750.2" y="735" font-size="12.5" fill="#131722" stroke="#131722" stroke-width="0.2" textLength="40" lengthAdjust="spacingAndGlyphs">100,00</text>
<text x="1750.2" y="805.2" font-size="12.5" fill="#131722" stroke="#131722" stroke-width="0.2" textLength="26.5" lengthAdjust="spacingAndGlyphs">0,00</text>
<rect x="1741" y="754" width="47.5" height="19" fill="#2962FF"/>
<rect x="1741" y="773" width="47.5" height="18.8" fill="#FF6D00"/>
<text x="1750.3" y="767.3" font-size="12.5" fill="#fff" stroke="#fff" stroke-width="0.2" textLength="33" lengthAdjust="spacingAndGlyphs">54,73</text>
<text x="1750.3" y="786.3" font-size="12.5" fill="#fff" stroke="#fff" stroke-width="0.2" textLength="33" lengthAdjust="spacingAndGlyphs">51,24</text>
<text x="38.2" y="828.8" font-size="12.2" fill="#131722" stroke="#131722" stroke-width="0.2" text-anchor="middle">18</text>
<text x="128.2" y="828.8" font-size="12.2" fill="#131722" stroke="#131722" stroke-width="0.2" text-anchor="middle">22</text>
<text x="189.2" y="828.8" font-size="12.2" fill="#131722" stroke="#131722" stroke-width="0.2" text-anchor="middle">23</text>
<text x="249.2" y="828.8" font-size="12.2" fill="#131722" stroke="#131722" stroke-width="0.2" text-anchor="middle">24</text>
<text x="310.2" y="828.8" font-size="12.2" fill="#131722" stroke="#131722" stroke-width="0.2" text-anchor="middle">25</text>
<text x="370.2" y="828.8" font-size="12.2" fill="#131722" stroke="#131722" stroke-width="0.2" text-anchor="middle">28</text>
<text x="431.2" y="828.8" font-size="12.2" fill="#131722" stroke="#131722" stroke-width="0.2" text-anchor="middle">29</text>
<text x="491.2" y="828.8" font-size="12.2" fill="#131722" stroke="#131722" stroke-width="0.2" text-anchor="middle">30</text>
<text x="552.2" y="828.8" font-size="12.2" fill="#131722" stroke="#131722" stroke-width="0.2" text-anchor="middle" font-weight="bold">May</text>
<text x="612.2" y="828.8" font-size="12.2" fill="#131722" stroke="#131722" stroke-width="0.2" text-anchor="middle">2</text>
<text x="672.2" y="828.8" font-size="12.2" fill="#131722" stroke="#131722" stroke-width="0.2" text-anchor="middle">5</text>
<text x="733.2" y="828.8" font-size="12.2" fill="#131722" stroke="#131722" stroke-width="0.2" text-anchor="middle">6</text>
<text x="793.2" y="828.8" font-size="12.2" fill="#131722" stroke="#131722" stroke-width="0.2" text-anchor="middle">7</text>
<text x="854.2" y="828.8" font-size="12.2" fill="#131722" stroke="#131722" stroke-width="0.2" text-anchor="middle">8</text>
<text x="914.2" y="828.8" font-size="12.2" fill="#131722" stroke="#131722" stroke-width="0.2" text-anchor="middle">9</text>
<text x="975.2" y="828.8" font-size="12.2" fill="#131722" stroke="#131722" stroke-width="0.2" text-anchor="middle">12</text>
<text x="1035.2" y="828.8" font-size="12.2" fill="#131722" stroke="#131722" stroke-width="0.2" text-anchor="middle">13</text>
<text x="1096.2" y="828.8" font-size="12.2" fill="#131722" stroke="#131722" stroke-width="0.2" text-anchor="middle">14</text>
<text x="1156.2" y="828.8" font-size="12.2" fill="#131722" stroke="#131722" stroke-width="0.2" text-anchor="middle">15</text>
<text x="1216.2" y="828.8" font-size="12.2" fill="#131722" stroke="#131722" stroke-width="0.2" text-anchor="middle">16</text>
<text x="1277.2" y="828.8" font-size="12.2" fill="#131722" stroke="#131722" stroke-width="0.2" text-anchor="middle">19</text>
<text x="1337.2" y="828.8" font-size="12.2" fill="#131722" stroke="#131722" stroke-width="0.2" text-anchor="middle">20</text>
<text x="1398.2" y="828.8" font-size="12.2" fill="#131722" stroke="#131722" stroke-width="0.2" text-anchor="middle">21</text>
<text x="1458.2" y="828.8" font-size="12.2" fill="#131722" stroke="#131722" stroke-width="0.2" text-anchor="middle">22</text>
<text x="1519.2" y="828.8" font-size="12.2" fill="#131722" stroke="#131722" stroke-width="0.2" text-anchor="middle">23</text>
<text x="1579.2" y="828.8" font-size="12.2" fill="#131722" stroke="#131722" stroke-width="0.2" text-anchor="middle">26</text>
<text x="1639.2" y="828.8" font-size="12.2" fill="#131722" stroke="#131722" stroke-width="0.2" text-anchor="middle">27</text>
<text x="1700.2" y="828.8" font-size="12.2" fill="#131722" stroke="#131722" stroke-width="0.2" text-anchor="middle">28</text>
<g fill="none">
<path d="M1602.8 696.8 A11.2 11.2 0 1 0 1610.3 704.3" stroke="#9C27B0" stroke-width="1.4"/>
<circle cx="1607.1" cy="699.9" r="3" fill="#F23645"/>
<polygon points="1603.1,701.6 1594.5,708.1 1599.9,708.1" fill="#9C27B0"/><polygon points="1604.3,706.9 1598.9,706.9 1595.6,713.6" fill="#9C27B0"/>
<circle cx="1669.9" cy="707.8" r="11.2" stroke="#F23645" stroke-width="1.5"/>
<clipPath id="fl"><circle cx="1669.9" cy="707.8" r="9"/></clipPath>
<g clip-path="url(#fl)"><rect x="1660" y="698" width="20" height="20" fill="#fff"/>
<rect x="1660" y="698.8" width="12" height="11" fill="#1E88E5"/>
<rect x="1672" y="699.5" width="9" height="3.3" fill="#EF5350"/><rect x="1672" y="706" width="9" height="3.6" fill="#EF5350"/><rect x="1660" y="712.9" width="20" height="3.6" fill="#EF5350"/>
<circle cx="1663.8" cy="701.3" r="0.55" fill="#fff"/>
<circle cx="1666.7" cy="701.3" r="0.55" fill="#fff"/>
<circle cx="1669.6" cy="701.3" r="0.55" fill="#fff"/>
<circle cx="1663.8" cy="704.5" r="0.55" fill="#fff"/>
<circle cx="1666.7" cy="704.5" r="0.55" fill="#fff"/>
<circle cx="1669.6" cy="704.5" r="0.55" fill="#fff"/>
<circle cx="1663.8" cy="707.6" r="0.55" fill="#fff"/>
<circle cx="1666.7" cy="707.6" r="0.55" fill="#fff"/>
<circle cx="1669.6" cy="707.6" r="0.55" fill="#fff"/>
</g></g>
<g fill="#131722"><path d="M11 853.7 H19.4 V863.8 H14.8 V857.7 H11 Z"/><circle cx="23.1" cy="855.4" r="1.65"/><path d="M26.6 853.7 H32.5 L28.4 863.8 H23.3 Z"/></g>
<text x="36.4" y="864.6" font-size="13.2" fill="#131722" stroke="#131722" stroke-width="0" textLength="77.2" lengthAdjust="spacingAndGlyphs">TradingView</text>
</svg></body></html>
